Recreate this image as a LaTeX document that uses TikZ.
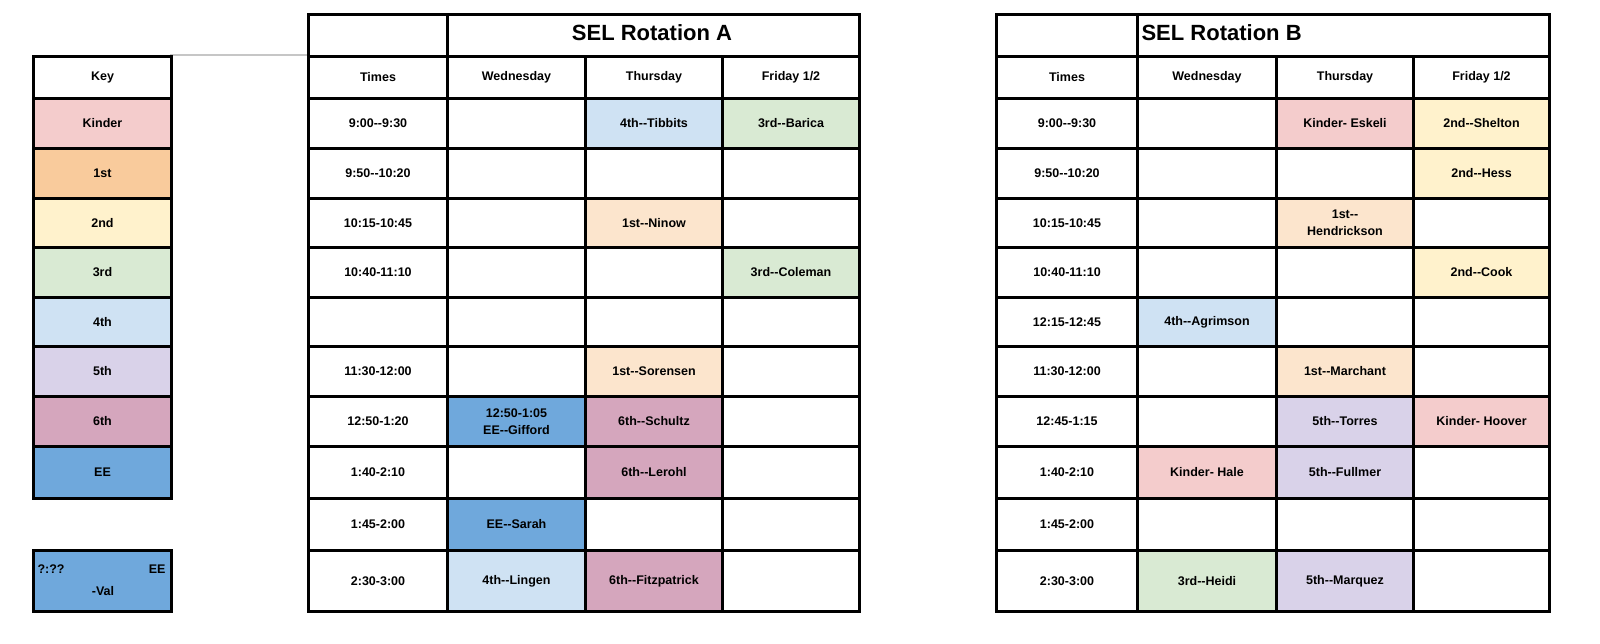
\documentclass[tikz,border=0pt]{standalone}
\usepackage{fontspec}
\setmainfont{Liberation Sans}[Ligatures=NoCommon]
\usetikzlibrary{calc}
\definecolor{ck}{HTML}{F4CCCC}
\definecolor{c1}{HTML}{F9CB9C}
\definecolor{c1l}{HTML}{FCE5CD}
\definecolor{c2}{HTML}{FFF2CC}
\definecolor{c3}{HTML}{D9EAD3}
\definecolor{c4}{HTML}{CFE2F3}
\definecolor{c5}{HTML}{D9D2E9}
\definecolor{c6}{HTML}{D5A6BD}
\definecolor{cee}{HTML}{6FA8DC}
\def\dd{-{}-}
\tikzset{cellbox/.style={draw=black,line width=3pt,inner sep=1pt,align=center,font=\fontsize{12.5}{17}\selectfont\bfseries,anchor=north west}}
\newcommand\rc[5]{\path let \n1={#3-#2},\n2={\yb-\ya} in node[cellbox,fill=#4,minimum width=\n1,minimum height=\n2] (#1) at (#2pt,-\ya pt) {#5};}
\begin{document}
\begin{tikzpicture}[x=1pt,y=1pt]
\useasboundingbox[fill=white] (0,0) rectangle (1600,-644);
\draw[gray!45,line width=2pt] (170,-55) -- (307,-55);
% key
\def\ya{55}\def\yb{97}\rc{k0}{32}{170}{white}{Key}
\def\ya{97}\def\yb{147}\rc{k1}{32}{170}{ck}{Kinder}
\def\ya{147}\def\yb{197}\rc{k2}{32}{170}{c1}{1st}
\def\ya{197}\def\yb{246}\rc{k3}{32}{170}{c2}{2nd}
\def\ya{246}\def\yb{296}\rc{k4}{32}{170}{c3}{3rd}
\def\ya{296}\def\yb{345}\rc{k5}{32}{170}{c4}{4th}
\def\ya{345}\def\yb{395}\rc{k6}{32}{170}{c5}{5th}
\def\ya{395}\def\yb{445}\rc{k7}{32}{170}{c6}{6th}
\def\ya{445}\def\yb{497}\rc{k8}{32}{170}{cee}{EE}
\def\ya{549}\def\yb{610}\rc{k9}{32}{170}{cee}{}
\node[font=\fontsize{12.5}{14}\selectfont\bfseries,anchor=west] (kv1) at (34,-569) {?:??};
\node[font=\fontsize{12.5}{14}\selectfont\bfseries,anchor=east] (kv2) at (169,-569) {EE};
\node[font=\fontsize{12.5}{14}\selectfont\bfseries] (kv3) at (103,-591) {-Val};
% Table A
\def\ya{13}\def\yb{55}\rc{a00}{307}{446}{white}{}
\rc{atitle}{446}{858}{white}{}
\node[font=\fontsize{22}{24}\selectfont\bfseries] (atitletext) at (652,-33) {SEL Rotation A};
\def\ya{55}\def\yb{97}
\rc{a01}{307}{446}{white}{Times}\rc{a02}{446}{584}{white}{Wednesday}\rc{a03}{584}{721}{white}{Thursday}\rc{a04}{721}{858}{white}{Friday 1/2}
\def\ya{97}\def\yb{147}
\rc{a11}{307}{446}{white}{9:00\dd9:30}\rc{a12}{446}{584}{white}{}\rc{a13}{584}{721}{c4}{4th\dd Tibbits}\rc{a14}{721}{858}{c3}{3rd\dd Barica}
\def\ya{147}\def\yb{197}
\rc{a21}{307}{446}{white}{9:50\dd10:20}\rc{a22}{446}{584}{white}{}\rc{a23}{584}{721}{white}{}\rc{a24}{721}{858}{white}{}
\def\ya{197}\def\yb{246}
\rc{a31}{307}{446}{white}{10:15-10:45}\rc{a32}{446}{584}{white}{}\rc{a33}{584}{721}{c1l}{1st\dd Ninow}\rc{a34}{721}{858}{white}{}
\def\ya{246}\def\yb{296}
\rc{a41}{307}{446}{white}{10:40-11:10}\rc{a42}{446}{584}{white}{}\rc{a43}{584}{721}{white}{}\rc{a44}{721}{858}{c3}{3rd\dd Coleman}
\def\ya{296}\def\yb{345}
\rc{a51}{307}{446}{white}{}\rc{a52}{446}{584}{white}{}\rc{a53}{584}{721}{white}{}\rc{a54}{721}{858}{white}{}
\def\ya{345}\def\yb{395}
\rc{a61}{307}{446}{white}{11:30-12:00}\rc{a62}{446}{584}{white}{}\rc{a63}{584}{721}{c1l}{1st\dd Sorensen}\rc{a64}{721}{858}{white}{}
\def\ya{395}\def\yb{445}
\rc{a71}{307}{446}{white}{12:50-1:20}\rc{a72}{446}{584}{cee}{12:50-1:05\\EE\dd Gifford}\rc{a73}{584}{721}{c6}{6th\dd Schultz}\rc{a74}{721}{858}{white}{}
\def\ya{445}\def\yb{497}
\rc{a81}{307}{446}{white}{1:40-2:10}\rc{a82}{446}{584}{white}{}\rc{a83}{584}{721}{c6}{6th\dd Lerohl}\rc{a84}{721}{858}{white}{}
\def\ya{497}\def\yb{549}
\rc{a91}{307}{446}{white}{1:45-2:00}\rc{a92}{446}{584}{cee}{EE\dd Sarah}\rc{a93}{584}{721}{white}{}\rc{a94}{721}{858}{white}{}
\def\ya{549}\def\yb{610}
\rc{aa1}{307}{446}{white}{2:30-3:00}\rc{aa2}{446}{584}{c4}{4th\dd Lingen}\rc{aa3}{584}{721}{c6}{6th\dd Fitzpatrick}\rc{aa4}{721}{858}{white}{}
% Table B
\def\ya{13}\def\yb{55}\rc{b00}{995}{1136}{white}{}
\rc{btitle}{1136}{1548}{white}{}
\node[font=\fontsize{22}{24}\selectfont\bfseries,anchor=west] (btitletext) at (1138,-33) {SEL Rotation B};
\def\ya{55}\def\yb{97}
\rc{b01}{995}{1136}{white}{Times}\rc{b02}{1136}{1275}{white}{Wednesday}\rc{b03}{1275}{1412}{white}{Thursday}\rc{b04}{1412}{1548}{white}{Friday 1/2}
\def\ya{97}\def\yb{147}
\rc{b11}{995}{1136}{white}{9:00\dd9:30}\rc{b12}{1136}{1275}{white}{}\rc{b13}{1275}{1412}{ck}{Kinder- Eskeli}\rc{b14}{1412}{1548}{c2}{2nd\dd Shelton}
\def\ya{147}\def\yb{197}
\rc{b21}{995}{1136}{white}{9:50\dd10:20}\rc{b22}{1136}{1275}{white}{}\rc{b23}{1275}{1412}{white}{}\rc{b24}{1412}{1548}{c2}{2nd\dd Hess}
\def\ya{197}\def\yb{246}
\rc{b31}{995}{1136}{white}{10:15-10:45}\rc{b32}{1136}{1275}{white}{}\rc{b33}{1275}{1412}{c1l}{1st\dd\\Hendrickson}\rc{b34}{1412}{1548}{white}{}
\def\ya{246}\def\yb{296}
\rc{b41}{995}{1136}{white}{10:40-11:10}\rc{b42}{1136}{1275}{white}{}\rc{b43}{1275}{1412}{white}{}\rc{b44}{1412}{1548}{c2}{2nd\dd Cook}
\def\ya{296}\def\yb{345}
\rc{b51}{995}{1136}{white}{12:15-12:45}\rc{b52}{1136}{1275}{c4}{4th\dd Agrimson}\rc{b53}{1275}{1412}{white}{}\rc{b54}{1412}{1548}{white}{}
\def\ya{345}\def\yb{395}
\rc{b61}{995}{1136}{white}{11:30-12:00}\rc{b62}{1136}{1275}{white}{}\rc{b63}{1275}{1412}{c1l}{1st\dd Marchant}\rc{b64}{1412}{1548}{white}{}
\def\ya{395}\def\yb{445}
\rc{b71}{995}{1136}{white}{12:45-1:15}\rc{b72}{1136}{1275}{white}{}\rc{b73}{1275}{1412}{c5}{5th\dd Torres}\rc{b74}{1412}{1548}{ck}{Kinder- Hoover}
\def\ya{445}\def\yb{497}
\rc{b81}{995}{1136}{white}{1:40-2:10}\rc{b82}{1136}{1275}{ck}{Kinder- Hale}\rc{b83}{1275}{1412}{c5}{5th\dd Fullmer}\rc{b84}{1412}{1548}{white}{}
\def\ya{497}\def\yb{549}
\rc{b91}{995}{1136}{white}{1:45-2:00}\rc{b92}{1136}{1275}{white}{}\rc{b93}{1275}{1412}{white}{}\rc{b94}{1412}{1548}{white}{}
\def\ya{549}\def\yb{610}
\rc{ba1}{995}{1136}{white}{2:30-3:00}\rc{ba2}{1136}{1275}{c3}{3rd\dd Heidi}\rc{ba3}{1275}{1412}{c5}{5th\dd Marquez}\rc{ba4}{1412}{1548}{white}{}
\end{tikzpicture}
\end{document}
